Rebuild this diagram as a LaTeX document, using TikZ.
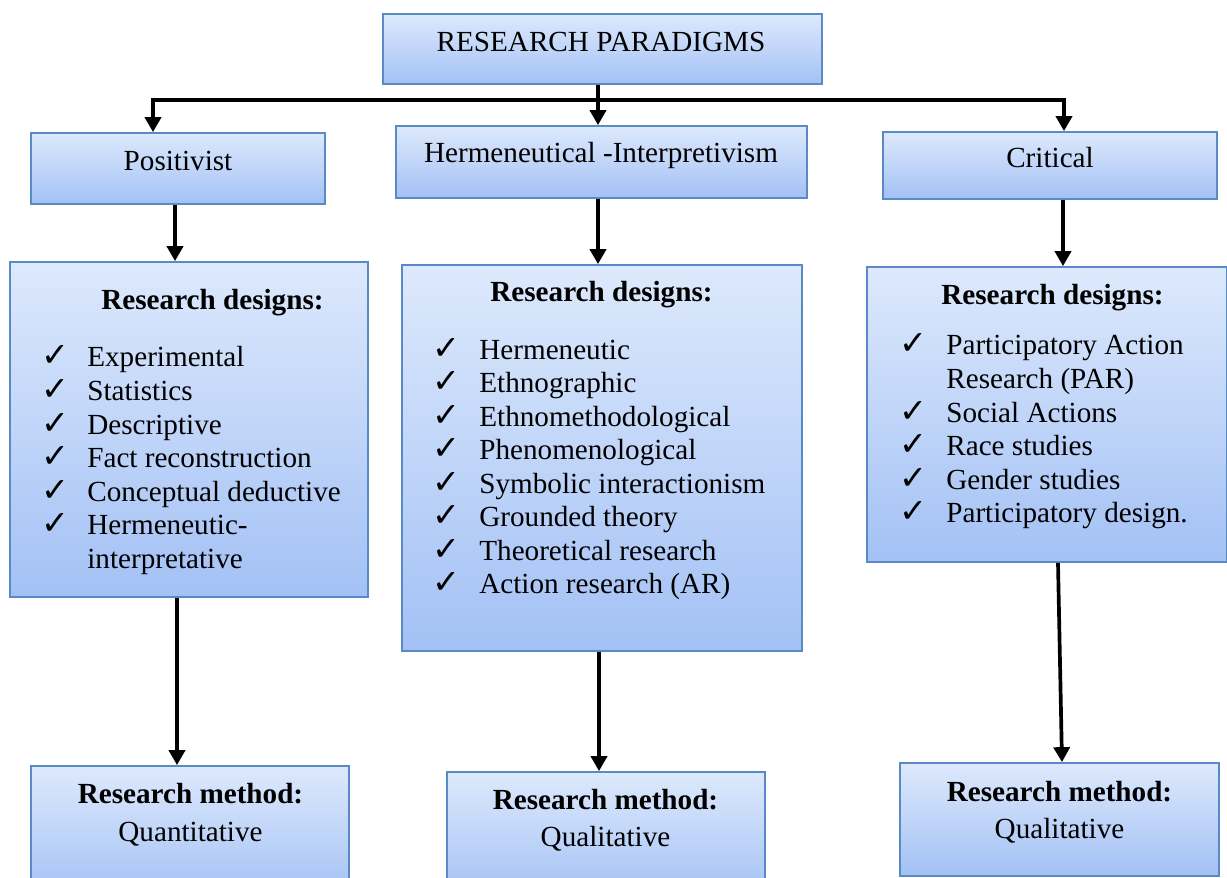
\documentclass[tikz,border=0pt]{standalone}
\usepackage{fontspec}
\setmainfont{Liberation Serif}
\newfontfamily\symfont{DejaVu Sans}
\usetikzlibrary{arrows.meta,positioning,calc}
\definecolor{boxtop}{HTML}{DDE9FC}
\definecolor{boxbot}{HTML}{A3C1F5}
\definecolor{boxline}{HTML}{5A8AC6}
\newcommand{\tick}{{\symfont\fontsize{19}{19.1}\selectfont ✓}}

\begin{document}
\begin{tikzpicture}[x=0.02cm,y=-0.02cm,
  font=\fontsize{16.6}{19.1}\selectfont,
  bx/.style={draw=boxline,line width=1pt,top color=boxtop,bottom color=boxbot,
    inner sep=0pt},
  tx/.style={anchor=base,inner sep=0pt},
  lst/.style={anchor=base west,inner sep=0pt},
  a/.style={-{Triangle[length=0.30cm,width=0.32cm]},line width=2.1pt,black}]
\useasboundingbox (0,0) rectangle (1227,878);

% paradigm boxes
\node[bx,minimum width=8.78cm,minimum height=1.40cm] (top) at (602.5,49) {};
\node[bx,minimum width=5.88cm,minimum height=1.42cm] (pos) at (178,168.5) {};
\node[bx,minimum width=8.22cm,minimum height=1.44cm] (her) at (601.5,162) {};
\node[bx,minimum width=6.68cm,minimum height=1.34cm] (cri) at (1050,165.5) {};
\node[tx] (topt) at (601,52) {RESEARCH PARADIGMS};
\node[tx] (post) at (178,171) {Positivist};
\node[tx] (hert) at (601,163) {Hermeneutical -Interpretivism};
\node[tx] (crit) at (1050,168) {Critical};

% design boxes
\node[bx,minimum width=7.16cm,minimum height=6.70cm] (d1) at (189,429.5) {};
\node[bx,minimum width=8.00cm,minimum height=7.72cm] (d2) at (602,458) {};
\node[bx,minimum width=7.20cm,minimum height=5.90cm] (d3) at (1047,414.5) {};
\node[tx] (d1t) at (212.5,310) {\bfseries Research designs:};
\node[tx] (d2t) at (601.5,302) {\bfseries Research designs:};
\node[tx] (d3t) at (1052.5,305) {\bfseries Research designs:};
\node[lst] (d1l) at (41,367) {\begin{tabular}[t]{@{}p{0.92cm}@{}l@{}}
  \tick & Experimental\\
  \tick & Statistics\\
  \tick & Descriptive\\
  \tick & Fact reconstruction\\
  \tick & Conceptual deductive\\
  \tick & Hermeneutic-\\
        & interpretative
  \end{tabular}};
\node[lst] (d2l) at (432,359) {\begin{tabular}[t]{@{}p{0.94cm}@{}l@{}}
  \tick & Hermeneutic\\
  \tick & Ethnographic\\
  \tick & Ethnomethodological\\
  \tick & Phenomenological\\
  \tick & Symbolic interactionism\\
  \tick & Grounded theory\\
  \tick & Theoretical research\\
  \tick & Action research (AR)
  \end{tabular}};
\node[lst] (d3l) at (899,355) {\begin{tabular}[t]{@{}p{0.94cm}@{}l@{}}
  \tick & Participatory Action\\
        & Research (PAR)\\
  \tick & Social Actions\\
  \tick & Race studies\\
  \tick & Gender studies\\
  \tick & Participatory design.
  \end{tabular}};

% method boxes
\node[bx,minimum width=6.36cm,minimum height=2.68cm] (m1) at (190,833) {};
\node[bx,minimum width=6.36cm,minimum height=2.56cm] (m2) at (606,836) {};
\node[bx,minimum width=6.38cm,minimum height=2.26cm] (m3) at (1059.5,819.5) {};
\node[tx] (m1t) at (190.5,803) {\begin{tabular}[t]{@{}c@{}}
  \bfseries Research method:\\[3pt] Quantitative\end{tabular}};
\node[tx] (m2t) at (605.5,809) {\begin{tabular}[t]{@{}c@{}}
  \bfseries Research method:\\[2.5pt] Qualitative\end{tabular}};
\node[tx] (m3t) at (1059.5,801) {\begin{tabular}[t]{@{}c@{}}
  \bfseries Research method:\\[2pt] Qualitative\end{tabular}};

% connectors
\coordinate (hub) at (598,100);
\draw[a] (598,0 |- top.south) -- (598,0 |- her.north);
\draw[a] (hub) -| (153,0 |- pos.north);
\draw[a] (hub) -| (1064,0 |- cri.north);
\draw[a] (175,0 |- pos.south) -- (175,0 |- d1.north);
\draw[a] (598,0 |- her.south) -- (598,0 |- d2.north);
\draw[a] (1063,0 |- cri.south) -- (1063,0 |- d3.north);
\draw[a] (177,0 |- d1.south) -- (177,0 |- m1.north);
\draw[a] (599,0 |- d2.south) -- (599,0 |- m2.north);
\draw[a] (1058,0 |- d3.south) -- (1062,0 |- m3.north);
\end{tikzpicture}
\end{document}
